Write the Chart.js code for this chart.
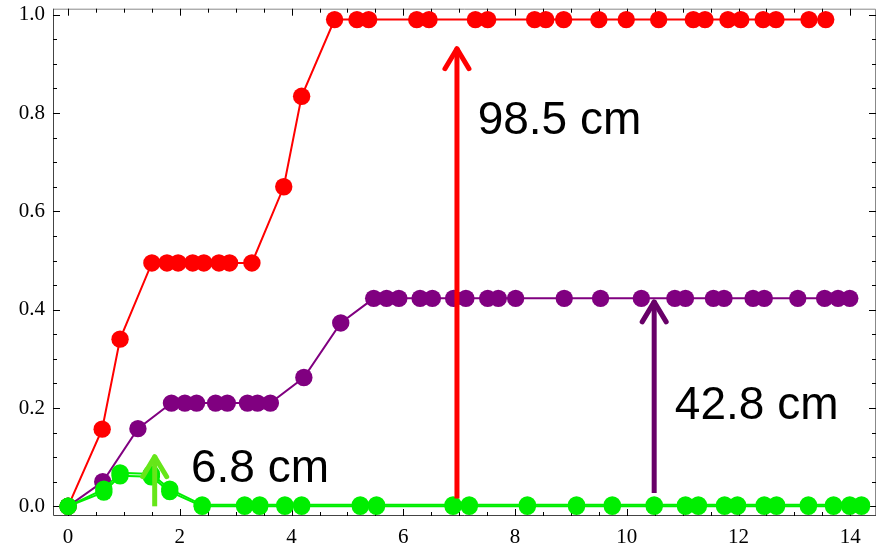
<!DOCTYPE html>
<html>
<head>
<meta charset="utf-8">
<script src="https://cdn.jsdelivr.net/npm/chart.js@4/dist/chart.umd.min.js"></script>
<style>
html,body{margin:0;padding:0;background:#fff;}
#wrap{width:885px;height:550px;}
</style>
</head>
<body>
<div id="wrap"><canvas id="c" width="885" height="550"></canvas></div>
<script>
// ---- data ----
const redX = [0, 0.61, 0.93, 1.50, 1.77, 1.97, 2.23, 2.43, 2.70, 2.89, 3.29, 3.86, 4.18, 4.77, 5.17, 5.38, 6.24, 6.46, 7.29, 7.51, 8.35, 8.55, 8.87, 9.50, 9.99, 10.57, 11.19, 11.40, 11.81, 12.04, 12.44, 12.67, 13.26, 13.56];
const redY = [0, 0.157, 0.34, 0.495, 0.495, 0.495, 0.495, 0.495, 0.495, 0.495, 0.495, 0.65, 0.834, 0.99, 0.99, 0.99, 0.99, 0.99, 0.99, 0.99, 0.99, 0.99, 0.99, 0.99, 0.99, 0.99, 0.99, 0.99, 0.99, 0.99, 0.99, 0.99, 0.99, 0.99];

const purpleX = [0, 0.62, 1.25, 1.85, 2.09, 2.30, 2.64, 2.85, 3.21, 3.39, 3.62, 4.22, 4.88, 5.47, 5.70, 5.92, 6.30, 6.52, 6.90, 7.12, 7.51, 7.70, 8.01, 8.88, 9.53, 10.26, 10.86, 11.05, 11.55, 11.74, 12.26, 12.46, 13.06, 13.54, 13.78, 13.99];
const purpleY = [0, 0.05, 0.158, 0.21, 0.21, 0.21, 0.21, 0.21, 0.21, 0.21, 0.21, 0.262, 0.373, 0.423, 0.423, 0.423, 0.423, 0.423, 0.423, 0.423, 0.423, 0.423, 0.423, 0.423, 0.423, 0.423, 0.423, 0.423, 0.423, 0.423, 0.423, 0.423, 0.423, 0.423, 0.423, 0.423];

const greenX = [0, 0.64, 0.93, 1.49, 1.82, 2.40, 3.16, 3.43, 3.88, 4.18, 5.23, 5.52, 6.89, 7.18, 8.22, 9.10, 9.74, 10.49, 11.05, 11.28, 11.75, 11.98, 12.46, 12.68, 13.25, 13.70, 13.99, 14.20];
const greenY = [0, 0.035, 0.068, 0.066, 0.035, 0.003, 0.003, 0.003, 0.003, 0.003, 0.003, 0.003, 0.003, 0.003, 0.003, 0.003, 0.003, 0.003, 0.003, 0.003, 0.003, 0.003, 0.003, 0.003, 0.003, 0.003, 0.003, 0.003];
const greenY2 = [0, 0.029, 0.062, 0.060, 0.030, 0, 0, 0, 0, 0, 0, 0, 0, 0, 0, 0, 0, 0, 0, 0, 0, 0, 0, 0, 0, 0, 0, 0];

const xTicks = [0, 2, 4, 6, 8, 10, 12, 14];
const yTicks = [0, 0.2, 0.4, 0.6, 0.8, 1.0];

// annotations (arrows + labels)
const arrowX = [6.96, 10.49, 1.55];
const arrowFrom = [0.016, 0.027, 0.0];
const arrowTo = [0.937, 0.422, 0.107];
const labelText = ['98.5 cm', '42.8 cm', '6.8 cm'];
const labelX = [7.33, 10.86, 2.20];
const labelY = [0.758, 0.178, 0.049];

// ---- styles ----
const RED = '#ff0000', PURPLE = '#800080', GREEN = '#00ee00';
const arrowColors = ['#ff0000', '#680068', '#66e619'];

function pts(xs, ys) { return xs.map((x, i) => ({x: x, y: ys[i]})); }

const framePlugin = {
  id: 'frame',
  beforeDatasetsDraw(chart) {
    const {ctx, chartArea: a, scales: {x, y}} = chart;
    ctx.save();
    ctx.lineWidth = 1;
    ctx.strokeStyle = '#888';
    ctx.beginPath();
    ctx.moveTo(a.left + 0.5, a.top + 0.5); ctx.lineTo(a.right - 0.5, a.top + 0.5);
    ctx.lineTo(a.right - 0.5, a.bottom - 0.5);
    ctx.stroke();
    ctx.strokeStyle = '#444';
    ctx.beginPath();
    ctx.moveTo(a.left + 0.5, a.top); ctx.lineTo(a.left + 0.5, a.bottom - 0.5);
    ctx.lineTo(a.right, a.bottom - 0.5);
    ctx.stroke();
    ctx.strokeStyle = '#000';
    ctx.beginPath();
    for (let k = 0; k <= 28; k++) {
      const v = k * 0.5;
      const px = Math.round(x.getPixelForValue(v)) + 0.5;
      if (px < a.left || px > a.right) continue;
      const len = (k % 4 === 0) ? 7 : 4;
      ctx.moveTo(px, a.bottom); ctx.lineTo(px, a.bottom - len);
      ctx.moveTo(px, a.top); ctx.lineTo(px, a.top + len);
    }
    for (let k = 0; k <= 20; k++) {
      const v = k * 0.05;
      const py = Math.round(y.getPixelForValue(v)) + 0.5;
      if (py < a.top || py > a.bottom) continue;
      const len = (k % 4 === 0) ? 7 : 4;
      ctx.moveTo(a.left, py); ctx.lineTo(a.left + len, py);
      ctx.moveTo(a.right, py); ctx.lineTo(a.right - len, py);
    }
    ctx.stroke();
    ctx.restore();
  }
};

const annotPlugin = {
  id: 'annot',
  afterDatasetsDraw(chart) {
    const {ctx, scales: {x, y}} = chart;
    ctx.save();
    ctx.lineJoin = 'round';
    for (let i = 0; i < arrowX.length; i++) {
      const px = x.getPixelForValue(arrowX[i]);
      const y0 = y.getPixelForValue(arrowFrom[i]);
      const y1 = y.getPixelForValue(arrowTo[i]);
      ctx.strokeStyle = arrowColors[i];
      ctx.lineWidth = 5;
      ctx.lineCap = 'butt';
      ctx.beginPath();
      ctx.moveTo(px, y0); ctx.lineTo(px, y1 + 2);
      ctx.stroke();
      ctx.lineCap = 'round';
      ctx.beginPath();
      ctx.moveTo(px - 12, y1 + 23); ctx.lineTo(px, y1 + 3); ctx.lineTo(px + 12, y1 + 23);
      ctx.stroke();
    }
    ctx.fillStyle = '#000';
    ctx.font = '46px "Liberation Sans", Arial, sans-serif';
    ctx.textBaseline = 'alphabetic';
    ctx.textAlign = 'left';
    for (let i = 0; i < labelText.length; i++) {
      ctx.fillText(labelText[i], x.getPixelForValue(labelX[i]), y.getPixelForValue(labelY[i]));
    }
    ctx.restore();
  }
};

const tickFont = {family: '"Liberation Serif", "Times New Roman", serif', size: 21};

new Chart(document.getElementById('c'), {
  type: 'scatter',
  data: {
    datasets: [
      {data: pts(greenX, greenY), showLine: true, borderColor: GREEN, backgroundColor: GREEN, borderWidth: 2, pointRadius: 8.7, pointBorderWidth: 0, order: 0},
      {data: pts(greenX, greenY2), showLine: true, borderColor: GREEN, backgroundColor: GREEN, borderWidth: 2, pointRadius: 8.7, pointBorderWidth: 0, order: 1},
      {data: pts(purpleX, purpleY), showLine: true, borderColor: PURPLE, backgroundColor: PURPLE, borderWidth: 2, pointRadius: 8.7, pointBorderWidth: 0, order: 2},
      {data: pts(redX, redY), showLine: true, borderColor: RED, backgroundColor: RED, borderWidth: 2, pointRadius: 8.7, pointBorderWidth: 0, order: 3}
    ]
  },
  options: {
    responsive: false,
    animation: false,
    devicePixelRatio: 1,
    layout: {padding: {top: 8, right: 9, left: 0, bottom: 0}},
    plugins: {legend: {display: false}, tooltip: {enabled: false}},
    scales: {
      x: {
        type: 'linear', min: -0.27, max: 14.46,
        grid: {display: false, drawTicks: false}, border: {display: false},
        afterBuildTicks: (s) => { s.ticks = xTicks.map(v => ({value: v})); },
        afterFit: (s) => { s.height = 34; s.paddingLeft = 0; s.paddingRight = 0; },
        ticks: {font: tickFont, color: '#000', padding: 9, maxRotation: 0, autoSkip: false, callback: (v) => String(v)}
      },
      y: {
        type: 'linear', min: -0.0197, max: 1.0122,
        grid: {display: false, drawTicks: false}, border: {display: false},
        afterBuildTicks: (s) => { s.ticks = yTicks.map(v => ({value: v})); },
        afterFit: (s) => { s.width = 53; s.paddingTop = 0; s.paddingBottom = 0; },
        ticks: {font: tickFont, color: '#000', padding: 8, autoSkip: false, callback: (v) => Number(v).toFixed(1)}
      }
    }
  },
  plugins: [framePlugin, annotPlugin]
});
</script>
</body>
</html>
